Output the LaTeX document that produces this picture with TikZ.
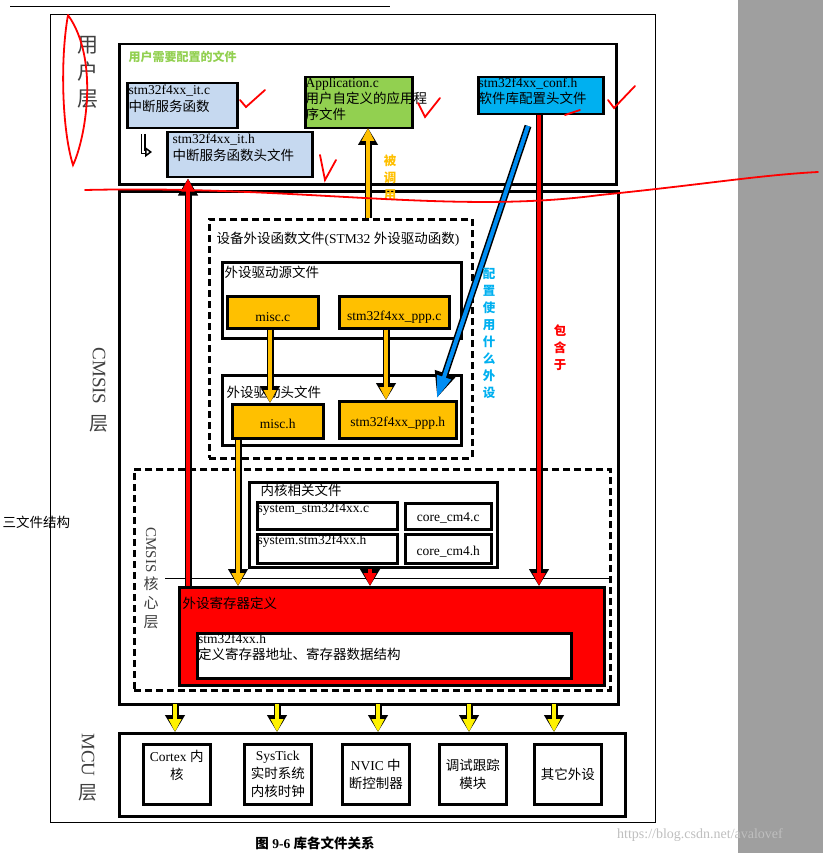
\documentclass[tikz,border=0pt]{standalone}
\usepackage{fontspec}
\setmainfont{Liberation Serif}
\newfontfamily\cjk{Noto Sans CJK SC}
\newcommand\zh[1]{{\cjk #1}}
\usetikzlibrary{arrows.meta,positioning}
\definecolor{itblue}{HTML}{C6D9F0}
\definecolor{appgreen}{HTML}{92D050}
\definecolor{confcyan}{HTML}{00B0F0}
\definecolor{fileorange}{HTML}{FFC000}
\definecolor{titlegreen}{HTML}{92D050}
\tikzset{
  x=1pt, y=-1pt,
  box/.style={draw, line width=2.5pt, anchor=north west, inner sep=0pt},
  dbox/.style={box, dashed, dash pattern=on 7pt off 4pt},
  txt/.style={anchor=north west, inner sep=2.5pt, align=left, font=\fontsize{13.5}{18}\selectfont},
  ctxt/.style={inner sep=0pt, align=center, font=\fontsize{13.5}{18}\selectfont},
  vtxt/.style={inner sep=0pt, align=center, font=\fontsize{12.5}{17}\selectfont\bfseries},
  fat/.style={line width=3.5pt, draw=#1, -{Triangle[width=12pt,length=13pt,fill=#1]},
    preaction={draw=black, line width=7pt, -{Triangle[width=19pt,length=17pt]}}},
  scribble/.style={red, line width=1.8pt, line cap=round}
}
\begin{document}
\begin{tikzpicture}
\useasboundingbox (0,0) rectangle (823,853);
\fill[white] (0,0) rectangle (823,853);
\fill[gray!75] (738,0) rectangle (823,853);
\draw[thin] (10,6) -- (390,6);
\draw[thin] (50,14) rectangle (655,822);

% user layer
\node[box, minimum width=497pt, minimum height=140pt] (user) at (118,43) {};
\node[txt, text=titlegreen, font=\fontsize{12}{14}\selectfont\bfseries] at (126,48) {\zh{用户需要配置的文件}};
\node[box, fill=itblue, minimum width=110pt, minimum height=45pt] (itc) at (126,82) {};
\node[txt, font=\fontsize{13.5}{17}\selectfont] at (itc.north west) {stm32f4xx\_it.c\\ \zh{中断服务函数}};
\node[box, fill=itblue, minimum width=145pt, minimum height=45pt] (ith) at (166,131) {};
\node[txt, font=\fontsize{13.5}{17}\selectfont] at ([xshift=4pt]ith.north west) {stm32f4xx\_it.h\\ \zh{中断服务函数头文件}};
\node[box, fill=appgreen, minimum width=107pt, minimum height=51pt] (app) at (304,76) {};
\node[txt, inner sep=1.5pt, font=\fontsize{13.5}{16}\selectfont] at (app.north west) {Application.c\\ \zh{用户自定义的应用程}\\ \zh{序文件}};
\node[box, fill=confcyan, minimum width=125pt, minimum height=37pt] (conf) at (477,76) {};
\node[txt, inner sep=1.5pt, font=\fontsize{13.5}{16}\selectfont] at (conf.north west) {stm32f4xx\_conf.h\\ \zh{软件库配置头文件}};
\draw[line width=1.5pt, double=white, double distance=2pt, -{Triangle[open,width=10pt,length=7pt]}] (143,134) -- (143,152) -- (152,152);

% cmsis layer
\node[box, minimum width=499pt, minimum height=513pt] (cmsis) at (118,190) {};
\node[dbox, minimum width=263pt, minimum height=239pt] (dev) at (208,218) {};
\node[txt] at (214,229) {\zh{设备外设函数文件}(STM32 \zh{外设驱动函数})};
\node[box, minimum width=239pt, minimum height=76pt] (src) at (221,261) {};
\node[txt] at (222,263) {\zh{外设驱动源文件}};
\node[box, fill=fileorange, minimum width=91pt, minimum height=32pt] (miscc) at (226,295) {};
\node[ctxt] at ([yshift=-5pt]miscc.center) {misc.c};
\node[box, fill=fileorange, minimum width=110pt, minimum height=32pt] (pppc) at (338,295) {};
\node[ctxt] at ([yshift=-5pt]pppc.center) {stm32f4xx\_ppp.c};
\node[box, minimum width=239pt, minimum height=70pt] (hdr) at (221,374) {};
\node[txt] at (224,383) {\zh{外设驱动头文件}};
\node[box, fill=fileorange, minimum width=91pt, minimum height=34pt] (misch) at (231,403) {};
\node[ctxt] at ([yshift=-3pt]misch.center) {misc.h};
\node[box, fill=fileorange, minimum width=117pt, minimum height=37pt] (ppph) at (338,400) {};
\node[ctxt] at ([yshift=-3pt]ppph.center) {stm32f4xx\_ppp.h};

\node[dbox, minimum width=476pt, minimum height=221pt] (core) at (133,468) {};
\draw[thin] (165,578) -- (609,578);
\node[box, minimum width=248pt, minimum height=85pt] (kern) at (248,481) {};
\node[txt] at (258,481) {\zh{内核相关文件}};
\node[box, minimum width=140pt, minimum height=27pt] (sysc) at (256,501) {};
\node[txt, inner sep=1.5pt] at (sysc.north west) {system\_stm32f4xx.c};
\node[box, minimum width=86pt, minimum height=26pt] (cmc) at (404,502) {};
\node[ctxt] at ([yshift=-2pt]cmc.center) {core\_cm4.c};
\node[box, minimum width=140pt, minimum height=29pt] (sysh) at (256,533) {};
\node[txt, inner sep=1.5pt] at (sysh.north west) {system.stm32f4xx.h};
\node[box, minimum width=86pt, minimum height=29pt] (cmh) at (404,533) {};
\node[ctxt] at ([yshift=-3pt]cmh.center) {core\_cm4.h};
\node[box, fill=red, minimum width=425pt, minimum height=98pt] (reg) at (178,586) {};
\node[txt] at (180,594) {\zh{外设寄存器定义}};
\node[box, fill=white, minimum width=374pt, minimum height=45pt] (stmh) at (196,632) {};
\node[txt, inner sep=2pt, font=\fontsize{13.5}{16}\selectfont] at (stmh.north west) {stm32f4xx.h\\ \zh{定义寄存器地址、寄存器数据结构}};

% mcu layer
\node[box, minimum width=506pt, minimum height=83pt] (mcu) at (118,732) {};
\foreach \x/\name/\t in {142/cortex/{Cortex \zh{内}\\ \zh{核}\\ ~}, 243/systick/{SysTick\\ \zh{实时系统}\\ \zh{内核时钟}},
  341/nvic/{NVIC \zh{中}\\ \zh{断控制器}}, 438/debug/{\zh{调试跟踪}\\ \zh{模块}}, 533/other/{\zh{其它外设}}}{
  \node[box, minimum width=67pt, minimum height=60pt] (\name) at (\x,743) {};
  \node[ctxt] at (\name.center) {\t};
}
\foreach \x in {175,277,378,469,554}
  \draw[fat=yellow] (\x,704) -- (\x,732);

% connectors
\coordinate (oT) at (368,218);
\coordinate (oB) at (368,128);
\draw[fat=fileorange] (oT) -- (oB);
\draw[fat=fileorange] (miscc.south -| 270,0) -- (misch.north -| 270,0);
\draw[fat=fileorange] (pppc.south -| 386,0) -- (ppph.north -| 386,0);
\draw[fat=fileorange] (misch.south -| 238,0) -- (reg.north -| 238,0);
\draw[fat=red] (reg.north -| 188,0) -- (ith.south -| 188,0);
\draw[fat=red] (conf.south -| 539,0) -- (reg.north -| 539,0);
\draw[fat=red] (kern.south -| 370,0) -- (reg.north -| 370,0);
\coordinate (bA) at (528,126);
\coordinate (bB) at (437,398);
\draw[line width=4pt, draw=confcyan!80!blue, -{Triangle[width=14pt,length=22pt,fill=confcyan!80!blue]},
  preaction={draw=black, line width=7pt, -{Triangle[width=20pt,length=26pt]}}] (bA) -- (bB);

\node[vtxt, text=fileorange] at (390,178) {\zh{被}\\ \zh{调}\\ \zh{用}};
\node[vtxt, text=confcyan] at (489,333) {\zh{配}\\ \zh{置}\\ \zh{使}\\ \zh{用}\\ \zh{什}\\ \zh{么}\\ \zh{外}\\ \zh{设}};
\node[vtxt, text=red] at (560,348) {\zh{包}\\ \zh{含}\\ \zh{于}};

% layer labels
\node[ctxt, font=\fontsize{21}{27}\selectfont, text=black!75] at (88,72) {\zh{用}\\ \zh{户}\\ \zh{层}};
\node[ctxt, rotate=-90, font=\fontsize{19}{20}\selectfont, text=black!75] at (99,376) {CMSIS};
\node[ctxt, font=\fontsize{19}{20}\selectfont, text=black!75] at (99,424) {\zh{层}};
\node[ctxt, rotate=-90, font=\fontsize{15}{16}\selectfont, text=black!75] at (151,550) {CMSIS};
\node[ctxt, font=\fontsize{15}{19}\selectfont, text=black!75] at (151,603) {\zh{核}\\ \zh{心}\\ \zh{层}};
\node[ctxt, rotate=-90, font=\fontsize{19}{20}\selectfont, text=black!75] at (88,755) {MCU};
\node[ctxt, font=\fontsize{19}{20}\selectfont, text=black!75] at (88,793) {\zh{层}};
\node[txt, font=\fontsize{13.5}{15}\selectfont] at (0,513) {\zh{三文件结构}};
\node[ctxt, font=\fontsize{13.5}{15}\selectfont\bfseries] at (315,843) {\zh{图} 9-6 \zh{库各文件关系}};
\node[ctxt, text=gray!50, font=\fontsize{14}{15}\selectfont] at (700,835) {https://blog.csdn.net/avalovef};

% red pen marks
\draw[scribble] (68,15) .. controls (60,60) and (62,130) .. (73,165) .. controls (85,140) and (100,60) .. (68,15);
\draw[scribble] (85,190) .. controls (300,185) and (450,215) .. (600,195) .. controls (700,185) and (760,175) .. (818,172);
\draw[scribble] (240,100) -- (246,107) -- (265,90);
\draw[scribble] (418,103) -- (425,117) -- (440,98);
\draw[scribble] (608,100) -- (614,108) -- (635,86);
\draw[scribble] (320,155) -- (325,180) -- (336,160);
\draw[scribble] (565,115) -- (580,110);
\end{tikzpicture}
\end{document}
